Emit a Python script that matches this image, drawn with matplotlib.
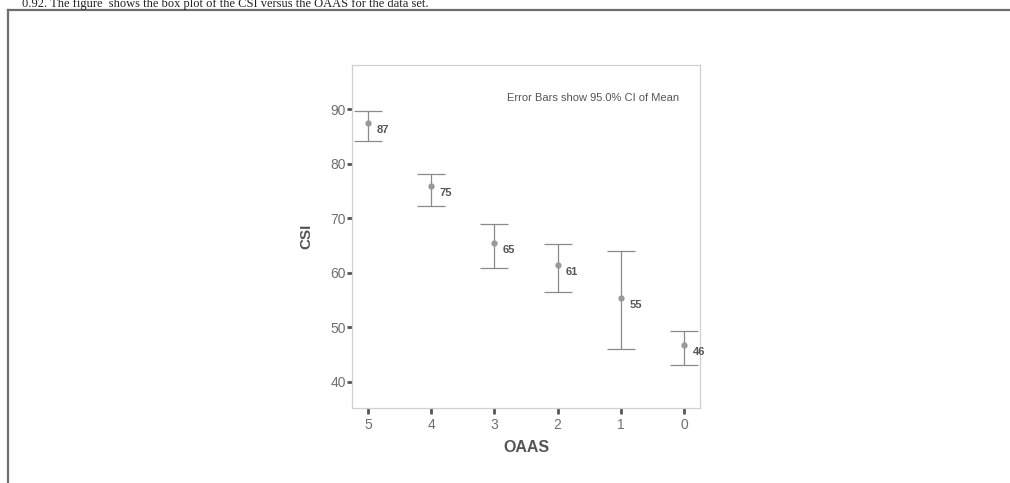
import matplotlib
matplotlib.use("Agg")
import matplotlib.pyplot as plt
from matplotlib.lines import Line2D

# Data
oaas_labels = ["5", "4", "3", "2", "1", "0"]
csi_mean = [87.4, 75.9, 65.5, 61.5, 55.4, 46.7]
ci_upper = [89.7, 78.2, 69.0, 65.3, 63.9, 49.4]
ci_lower = [84.2, 72.2, 60.9, 56.5, 46.1, 43.0]
point_labels = ["87", "75", "65", "61", "55", "46"]
y_ticks = [40, 50, 60, 70, 80, 90]

plt.rcParams["font.family"] = ["Liberation Sans", "DejaVu Sans"]

W, H = 1010, 483
fig = plt.figure(figsize=(W / 100, H / 100), dpi=100)
fig.patch.set_facecolor("white")

# Caption line at the top of the scan
fig.text(22 / W, 1 - 7 / H,
         "0.92. The figure  shows the box plot of the CSI versus the OAAS for the data set.",
         family="Liberation Serif", fontsize=9, color="#222222",
         ha="left", va="baseline")

# Outer frame (top and left lines)
fig.add_artist(Line2D([7.5 / W, 1.0], [1 - 10 / H, 1 - 10 / H],
                      transform=fig.transFigure, color="#6e6e6e", lw=1.6))
fig.add_artist(Line2D([7.5 / W, 7.5 / W], [0.0, 1 - 10 / H],
                      transform=fig.transFigure, color="#6e6e6e", lw=1.6))

ax = fig.add_axes([352 / W, 1 - 408 / H, (700 - 352) / W, (408 - 65) / H])
ax.set_facecolor("white")

x = list(range(len(oaas_labels)))
yerr_low = [m - l for m, l in zip(csi_mean, ci_lower)]
yerr_high = [u - m for m, u in zip(csi_mean, ci_upper)]

ax.errorbar(x, csi_mean, yerr=[yerr_low, yerr_high], fmt="o",
            color="#9a9a9a", ecolor="#8a8a8a", elinewidth=0.9,
            capsize=10.4, capthick=0.9, markersize=3.5,
            markerfacecolor="#999999", markeredgecolor="#999999")

for xi, m, lab in zip(x, csi_mean, point_labels):
    ax.annotate(lab, (xi, m), xytext=(6, -5), textcoords="offset points",
                fontsize=8, fontweight="bold", color="#555555",
                ha="left", va="center")

ax.text(0.94, 0.904, "Error Bars show 95.0% CI of Mean",
        transform=ax.transAxes, fontsize=8, color="#555555",
        ha="right", va="center")

ax.set_xlim(-0.25, 5.25)
ax.set_ylim(35.2, 98.1)
ax.set_xticks(x)
ax.set_xticklabels(oaas_labels)
ax.set_yticks(y_ticks)

for s in ax.spines.values():
    s.set_color("#d0d0d0")
    s.set_linewidth(0.9)

ax.tick_params(axis="x", length=4, width=2, color="#555555",
               labelsize=10, labelcolor="#707070", pad=3)
ax.tick_params(axis="y", length=3.5, width=2, color="#555555",
               labelsize=10, labelcolor="#707070", pad=1)

ax.set_xlabel("OAAS", fontsize=11.5, fontweight="bold", color="#555555", labelpad=6)
ax.set_ylabel("CSI", fontsize=11, fontweight="bold", color="#555555", labelpad=12)

fig.savefig("out.png", dpi=100, facecolor="white")
